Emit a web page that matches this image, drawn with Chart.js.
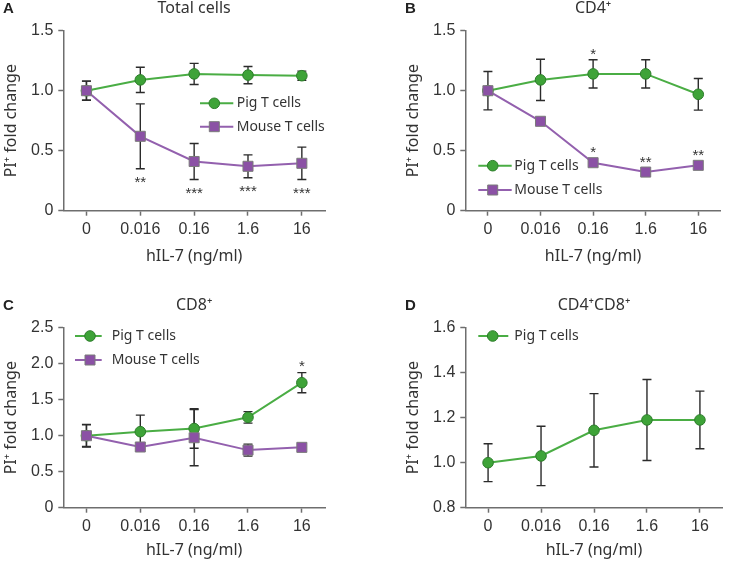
<!DOCTYPE html>
<html>
<head>
<meta charset="utf-8">
<script src="https://cdn.jsdelivr.net/npm/chart.js@4.4.1/dist/chart.umd.min.js"></script>
<style>
  body { margin: 0; background: #fff; }
  #wrap { position: relative; width: 729px; height: 563px; overflow: hidden; }
  .panel { position: absolute; }
  .panel canvas { display: block; }
</style>
</head>
<body>
<div id="wrap">
  <div class="panel" style="left:0;top:0"><canvas id="cA" width="365" height="280" style="width:365px;height:280px"></canvas></div>
  <div class="panel" style="left:365px;top:0"><canvas id="cB" width="364" height="280" style="width:364px;height:280px"></canvas></div>
  <div class="panel" style="left:0;top:297px"><canvas id="cC" width="365" height="266" style="width:365px;height:266px"></canvas></div>
  <div class="panel" style="left:365px;top:297px"><canvas id="cD" width="364" height="266" style="width:364px;height:266px"></canvas></div>
</div>
<script>
// --- Data ---
const doseLabels = ['0', '0.016', '0.16', '1.6', '16'];

// A: total cells
const pigTotal = [1.0, 1.09, 1.14, 1.13, 1.125];
const pigTotalErr = [0.08, 0.105, 0.088, 0.072, 0.038];
const mouseTotal = [1.0, 0.62, 0.41, 0.37, 0.395];
const mouseTotalErr = [0.08, 0.27, 0.15, 0.095, 0.135];
const mouseTotalStars = ['', '**', '***', '***', '***'];
const yTicksTotal = [0, 0.5, 1.0, 1.5];

// B: CD4+
const pigCD4 = [1.0, 1.09, 1.14, 1.14, 0.97];
const pigCD4Err = [0.16, 0.172, 0.118, 0.118, 0.132];
const mouseCD4 = [1.0, 0.745, 0.40, 0.322, 0.378];
const mouseCD4Err = [0, 0, 0, 0, 0];
const pigCD4Stars = ['', '', '*', '', ''];
const mouseCD4Stars = ['', '', '*', '**', '**'];
const yTicksCD4 = [0, 0.5, 1.0, 1.5];

// C: CD8+
const pigCD8 = [1.0, 1.056, 1.10, 1.255, 1.736];
const pigCD8Err = [0.157, 0.23, 0.275, 0.08, 0.14];
const mouseCD8 = [1.0, 0.843, 0.972, 0.80, 0.838];
const mouseCD8Err = [0.15, 0, 0.39, 0.083, 0];
const pigCD8Stars = ['', '', '', '', '*'];
const yTicksCD8 = [0, 0.5, 1.0, 1.5, 2.0, 2.5];

// D: CD4+CD8+
const pigDP = [1.0, 1.03, 1.144, 1.19, 1.19];
const pigDPErr = [0.084, 0.132, 0.163, 0.18, 0.128];
const yTicksDP = [0.8, 1.0, 1.2, 1.4, 1.6];

// --- Styles ---
const AXIS = '#6e6e6e';
const TEXT = '#333333';
const TICK_FONT = '"Liberation Sans", Arial, sans-serif';
const LABEL_FONT = '"Noto Sans", "DejaVu Sans", sans-serif';
const PIG = { line: '#4aad44', fill: '#3ea338', border: '#2c7d2a', style: 'circle', radius: 5.3, order: 2 };
const MOUSE = { line: '#9360ae', fill: '#8b51a5', border: '#7b7b7b', style: 'rect', radius: 7.1, order: 1 };

// error bars under the markers
const errorBars = {
  id: 'errorBars',
  beforeDatasetsDraw(chart) {
    const { ctx, scales: { x, y } } = chart;
    ctx.save();
    ctx.strokeStyle = '#2b2b2b';
    ctx.lineWidth = 1.4;
    chart.data.datasets.forEach(ds => {
      if (!ds.err) return;
      ds.data.forEach((p, i) => {
        const e = ds.err[i];
        if (!e) return;
        const px = x.getPixelForValue(p.x);
        const yt = y.getPixelForValue(p.y + e);
        const yb = y.getPixelForValue(p.y - e);
        ctx.beginPath();
        ctx.moveTo(px, yt); ctx.lineTo(px, yb);
        ctx.moveTo(px - 4.5, yt); ctx.lineTo(px + 4.5, yt);
        ctx.moveTo(px - 4.5, yb); ctx.lineTo(px + 4.5, yb);
        ctx.stroke();
      });
    });
    ctx.restore();
  }
};

// significance asterisks
const stars = {
  id: 'stars',
  afterDatasetsDraw(chart) {
    const { ctx, scales: { x, y } } = chart;
    const fs = 15;
    ctx.save();
    ctx.fillStyle = TEXT;
    ctx.font = fs + 'px ' + TICK_FONT;
    ctx.textAlign = 'center';
    ctx.textBaseline = 'alphabetic';
    chart.data.datasets.forEach(ds => {
      if (!ds.stars) return;
      ds.stars.forEach((s, i) => {
        if (!s) return;
        const p = ds.data[i];
        const e = ds.err ? ds.err[i] : 0;
        const px = x.getPixelForValue(p.x);
        const cy = ds.starSide === 'below'
          ? y.getPixelForValue(p.y - e) + ds.starGap
          : y.getPixelForValue(p.y + e) - ds.starGap;
        ctx.fillText(s, px, cy + 0.57 * fs);
      });
    });
    ctx.restore();
  }
};

// panel letter, title and in-plot legend
const panelDeco = {
  id: 'panelDeco',
  afterDraw(chart, args, opts) {
    const { ctx, chartArea } = chart;
    ctx.save();
    ctx.fillStyle = '#222';
    ctx.font = 'bold 15px ' + TICK_FONT;
    ctx.textAlign = 'left';
    ctx.textBaseline = 'middle';
    ctx.fillText(opts.letter, opts.letterX, 9);

    ctx.fillStyle = TEXT;
    ctx.font = '16px ' + LABEL_FONT;
    ctx.textAlign = 'center';
    ctx.fillText(opts.title, (chartArea.left + chartArea.right) / 2, 8.5);

    const lg = opts.legend;
    lg.rows.forEach(r => {
      const look = r.look;
      ctx.strokeStyle = look.line;
      ctx.lineWidth = 2;
      ctx.beginPath();
      ctx.moveTo(lg.x0, r.y); ctx.lineTo(lg.x1, r.y);
      ctx.stroke();
      ctx.fillStyle = look.fill;
      ctx.strokeStyle = look.border;
      ctx.lineWidth = 1;
      ctx.beginPath();
      if (look.style === 'circle') ctx.arc(lg.mx, r.y, look.radius, 0, Math.PI * 2);
      else ctx.rect(lg.mx - 5, r.y - 5, 10, 10);
      ctx.fill();
      ctx.stroke();
      ctx.fillStyle = TEXT;
      ctx.font = '14px ' + LABEL_FONT;
      ctx.textAlign = 'left';
      ctx.textBaseline = 'middle';
      ctx.fillText(r.text, lg.tx, r.y);
    });
    ctx.restore();
  }
};

function makePanel(id, p) {
  const datasets = p.series.map(s => ({
    label: s.name,
    data: s.values.map((v, i) => ({ x: i, y: v })),
    err: s.err,
    stars: s.stars,
    starSide: s.starSide,
    starGap: s.starGap,
    borderColor: s.look.line,
    borderWidth: 2,
    pointStyle: s.look.style,
    pointRadius: s.look.radius,
    pointHoverRadius: s.look.radius,
    pointBackgroundColor: s.look.fill,
    pointBorderColor: s.look.border,
    pointBorderWidth: 1,
    order: s.look.order,
    tension: 0,
    clip: false
  }));

  return new Chart(document.getElementById(id), {
    type: 'line',
    data: { datasets },
    options: {
      responsive: false,
      animation: false,
      events: [],
      layout: { padding: { left: p.padLeft, right: p.padRight, top: 30.7, bottom: 0 } },
      plugins: {
        legend: { display: false },
        tooltip: { enabled: false },
        panelDeco: { letter: p.letter, letterX: p.letterX, title: p.title, legend: p.legend }
      },
      scales: {
        x: {
          type: 'linear',
          min: -0.43,
          max: 4.43,
          afterBuildTicks: sc => { sc.ticks = doseLabels.map((_, i) => ({ value: i })); },
          afterFit: sc => { sc.height = p.h - 210.7; },
          ticks: {
            callback: v => doseLabels[v],
            color: TEXT,
            font: { family: TICK_FONT, size: 16 },
            padding: 4.5,
            maxRotation: 0,
            autoSkip: false
          },
          grid: { drawOnChartArea: false, drawTicks: true, tickLength: 5, tickWidth: 1.5, tickColor: AXIS },
          border: { display: true, color: AXIS, width: 1.5 },
          title: {
            display: true,
            text: 'hIL-7 (ng/ml)',
            color: TEXT,
            font: { family: LABEL_FONT, size: 16 },
            padding: { top: 0, bottom: p.xTitlePad }
          }
        },
        y: {
          min: p.yTicks[0],
          max: p.yTicks[p.yTicks.length - 1],
          afterBuildTicks: sc => { sc.ticks = p.yTicks.map(v => ({ value: v })); },
          afterFit: sc => { sc.width = 63.3; },
          ticks: {
            callback: v => v === 0 ? '0' : v.toFixed(1),
            color: TEXT,
            font: { family: TICK_FONT, size: 16 },
            padding: 5
          },
          grid: { drawOnChartArea: false, drawTicks: true, tickLength: 5, tickWidth: 1.5, tickColor: AXIS },
          border: { display: true, color: AXIS, width: 1.5 },
          title: {
            display: true,
            text: 'PI\u207A fold change',
            color: TEXT,
            font: { family: LABEL_FONT, size: 16 },
            padding: { top: 1.5, bottom: 0 }
          }
        }
      }
    },
    plugins: [errorBars, stars, panelDeco]
  });
}

makePanel('cA', {
  letter: 'A', letterX: 3, title: 'Total cells', h: 280,
  padLeft: 0, padRight: 40, xTitlePad: 13.7, yTicks: yTicksTotal,
  series: [
    { name: 'Pig T cells', look: PIG, values: pigTotal, err: pigTotalErr },
    { name: 'Mouse T cells', look: MOUSE, values: mouseTotal, err: mouseTotalErr,
      stars: mouseTotalStars, starSide: 'below', starGap: 10 }
  ],
  legend: { x0: 200, x1: 233.3, mx: 214.3, tx: 236.7, rows: [
    { look: PIG, text: 'Pig T cells', y: 103.3 },
    { look: MOUSE, text: 'Mouse T cells', y: 126.7 }
  ] }
});

makePanel('cB', {
  letter: 'B', letterX: 40, title: 'CD4\u207A', h: 280,
  padLeft: 37, padRight: 2, xTitlePad: 13.7, yTicks: yTicksCD4,
  series: [
    { name: 'Pig T cells', look: PIG, values: pigCD4, err: pigCD4Err,
      stars: pigCD4Stars, starSide: 'above', starGap: 9 },
    { name: 'Mouse T cells', look: MOUSE, values: mouseCD4, err: mouseCD4Err,
      stars: mouseCD4Stars, starSide: 'above', starGap: 14 }
  ],
  legend: { x0: 113.3, x1: 146.7, mx: 127.7, tx: 149.3, rows: [
    { look: PIG, text: 'Pig T cells', y: 165.7 },
    { look: MOUSE, text: 'Mouse T cells', y: 190 }
  ] }
});

makePanel('cC', {
  letter: 'C', letterX: 3, title: 'CD8\u207A', h: 266,
  padLeft: 0, padRight: 40, xTitlePad: 2.7, yTicks: yTicksCD8,
  series: [
    { name: 'Pig T cells', look: PIG, values: pigCD8, err: pigCD8Err,
      stars: pigCD8Stars, starSide: 'above', starGap: 10 },
    { name: 'Mouse T cells', look: MOUSE, values: mouseCD8, err: mouseCD8Err }
  ],
  legend: { x0: 75, x1: 101.7, mx: 90, tx: 111.7, rows: [
    { look: PIG, text: 'Pig T cells', y: 39 },
    { look: MOUSE, text: 'Mouse T cells', y: 63 }
  ] }
});

makePanel('cD', {
  letter: 'D', letterX: 40, title: 'CD4\u207ACD8\u207A', h: 266,
  padLeft: 37, padRight: 2, xTitlePad: 2.7, yTicks: yTicksDP,
  series: [
    { name: 'Pig T cells', look: PIG, values: pigDP, err: pigDPErr }
  ],
  legend: { x0: 113.3, x1: 143.3, mx: 127.7, tx: 149.3, rows: [
    { look: PIG, text: 'Pig T cells', y: 39 }
  ] }
});
</script>
</body>
</html>
